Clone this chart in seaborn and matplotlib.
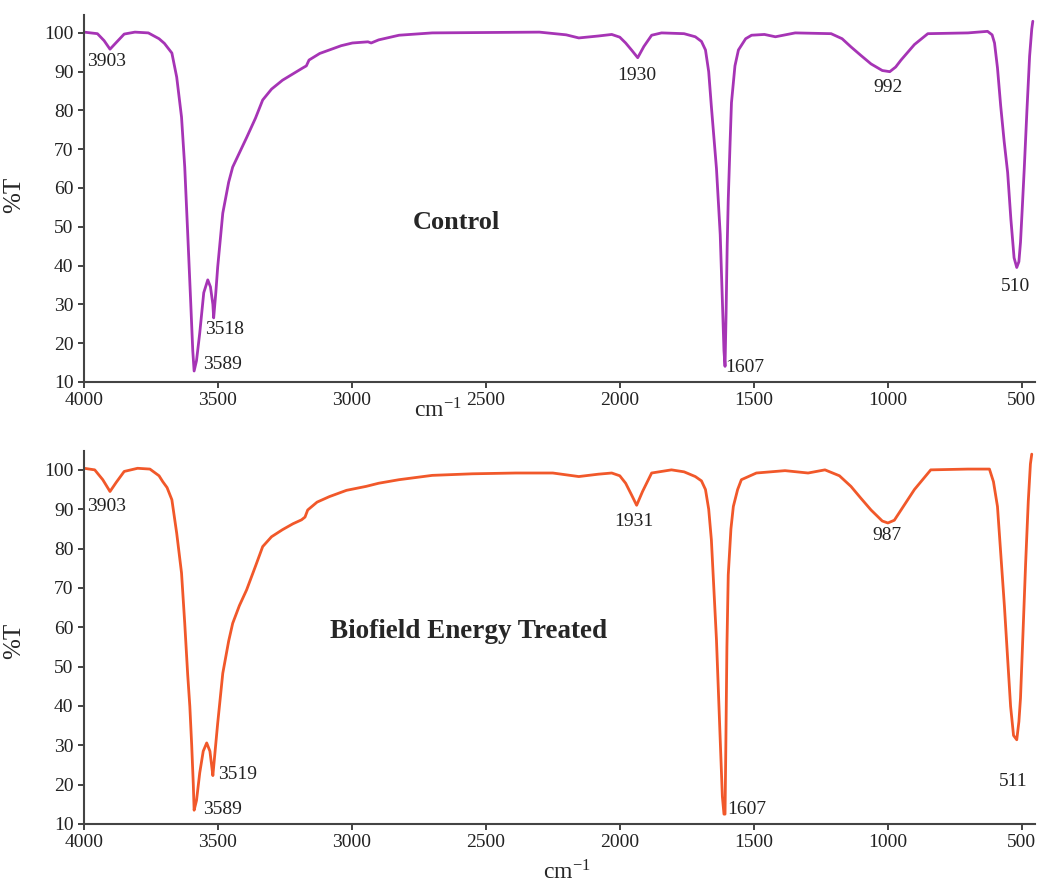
import pandas as pd
import matplotlib
matplotlib.use('Agg')
import matplotlib.pyplot as plt
import seaborn as sns

# FT-IR spectra: (wavenumber cm-1, %T)
ctrl_wn = [4000, 3950, 3925, 3903, 3880, 3850, 3810, 3760, 3720, 3700, 3672, 3654, 3636,
           3624, 3613, 3602, 3594, 3589, 3580, 3568, 3553, 3538, 3528, 3519, 3516, 3508,
           3501, 3482, 3460, 3445, 3393, 3360, 3333, 3300, 3259, 3185, 3170, 3160, 3120,
           3084, 3040, 2998, 2940, 2928, 2900, 2824, 2700, 2500, 2300, 2200, 2153, 2080,
           2030, 2000, 1978, 1955, 1933, 1910, 1881, 1844, 1760, 1718, 1695, 1680, 1668,
           1658, 1639, 1625, 1617, 1611, 1607, 1603, 1599, 1595, 1588, 1583, 1570, 1557,
           1530, 1508, 1460, 1419, 1345, 1211, 1170, 1137, 1100, 1062, 1020, 992, 970,
           950, 900, 850, 700, 627, 610, 601, 590, 578, 565, 552, 540, 528, 518, 510, 504,
           498, 490, 480, 470, 462, 458]
ctrl_t = [100.2, 99.8, 98.0, 95.8, 97.5, 99.7, 100.2, 100.0, 98.5, 97.3, 94.8, 88.6, 78.3,
          65.4, 48.4, 31.0, 18.0, 12.8, 15.5, 22.6, 33.0, 36.3, 34.5, 30.0, 26.5, 33.0,
          39.6, 53.5, 61.5, 65.4, 73.0, 78.0, 82.7, 85.5, 87.8, 90.9, 91.5, 93.0, 94.7,
          95.6, 96.7, 97.4, 97.7, 97.4, 98.2, 99.4, 100.0, 100.1, 100.2, 99.5, 98.7, 99.2,
          99.6, 98.9, 97.4, 95.5, 93.6, 96.5, 99.4, 100.0, 99.8, 99.0, 97.8, 95.6, 90.0,
          81.0, 65.0, 48.0, 31.0, 18.0, 14.0, 28.0, 45.0, 57.0, 72.0, 82.0, 91.5, 95.6,
          98.5, 99.4, 99.6, 99.0, 100.0, 99.8, 98.5, 96.4, 94.2, 92.0, 90.3, 90.0, 91.2,
          93.0, 97.0, 99.8, 100.0, 100.4, 99.5, 97.4, 91.0, 81.2, 72.0, 64.0, 52.0, 42.0,
          39.5, 41.0, 46.0, 54.0, 65.0, 80.0, 94.0, 101.0, 103.0]

treat_wn = [4000, 3960, 3930, 3903, 3880, 3850, 3800, 3754, 3720, 3706, 3690, 3672, 3654,
            3636, 3624, 3613, 3605, 3598, 3592, 3589, 3580, 3568, 3555, 3542, 3530, 3522,
            3519, 3510, 3501, 3482, 3460, 3445, 3420, 3393, 3360, 3333, 3300, 3259, 3220,
            3188, 3175, 3165, 3130, 3084, 3020, 2947, 2900, 2824, 2700, 2550, 2388, 2250,
            2153, 2080, 2030, 2000, 1978, 1955, 1937, 1915, 1881, 1807, 1760, 1718, 1695,
            1680, 1668, 1658, 1639, 1625, 1617, 1611, 1607, 1604, 1600, 1595, 1585, 1576,
            1560, 1546, 1490, 1383, 1297, 1234, 1180, 1137, 1100, 1062, 1020, 999, 975,
            950, 900, 839, 700, 620, 605, 590, 577, 564, 552, 541, 530, 518, 510, 504,
            495, 485, 475, 467, 462]
treat_t = [100.4, 100.0, 97.5, 94.5, 96.8, 99.6, 100.4, 100.2, 98.5, 97.0, 95.5, 92.4, 83.9,
           73.8, 61.0, 48.0, 39.9, 30.0, 20.0, 13.5, 16.0, 23.0, 28.5, 30.6, 28.5, 24.0,
           22.3, 29.0, 35.6, 48.3, 56.5, 61.0, 65.5, 69.5, 75.5, 80.5, 83.0, 84.8, 86.3,
           87.3, 88.0, 89.8, 91.8, 93.2, 94.8, 95.8, 96.6, 97.5, 98.6, 99.0, 99.2, 99.2,
           98.3, 98.9, 99.2, 98.5, 96.6, 93.5, 91.0, 94.5, 99.2, 100.0, 99.5, 98.3, 97.2,
           95.0, 90.0, 82.2, 56.8, 31.4, 17.0, 12.5, 12.5, 30.0, 55.0, 73.3, 85.0, 90.7,
           95.0, 97.5, 99.2, 99.8, 99.2, 100.0, 98.5, 95.8, 92.8, 89.8, 87.0, 86.5, 87.2,
           89.8, 95.0, 100.0, 100.2, 100.2, 97.0, 90.7, 78.0, 65.3, 52.0, 39.9, 32.5, 31.4,
           36.0, 42.0, 58.0, 76.0, 92.0, 101.5, 104.0]

# peak labels: (text, x, y, alignment)
ctrl_peaks = [('3903', 3990, 92.5, 'left'), ('3518', 3548, 23.4, 'left'),
              ('3589', 3555, 14.4, 'left'), ('1930', 1937, 89.1, 'center'),
              ('992', 999, 86.0, 'center'), ('510', 522, 34.5, 'center'),
              ('1607', 1606, 13.6, 'left')]
treat_peaks = [('3903', 3990, 90.6, 'left'), ('3519', 3500, 22.5, 'left'),
               ('3589', 3555, 13.6, 'left'), ('1931', 1949, 87.0, 'center'),
               ('987', 1003, 83.2, 'center'), ('511', 530, 20.9, 'center'),
               ('1607', 1598, 13.6, 'left')]

yticks = list(range(10, 101, 10))
xticks = [4000, 3500, 3000, 2500, 2000, 1500, 1000, 500]

sns.set_style('ticks')
plt.rcParams['font.family'] = ['Liberation Serif', 'DejaVu Serif']
plt.rcParams['mathtext.fontset'] = 'stix'

fig = plt.figure(figsize=(10.45, 8.86), dpi=100)
ax1 = fig.add_axes([0.0804, 0.569, 0.910, 0.414])
ax2 = fig.add_axes([0.0804, 0.070, 0.910, 0.421])

panels = [
    (ax1, ctrl_wn, ctrl_t, '#A634B5', ctrl_peaks, 'Control', 2611, 51, 19, 104.6, (0.372, -0.045), 0.51),
    (ax2, treat_wn, treat_t, '#F1582A', treat_peaks, 'Biofield Energy Treated', 2563, 58.8, 19.5, 104.8, (0.508, -0.098), 0.49),
]

for ax, wn, t, col, peaks, title, tx, ty, tsize, ytop, xl_pos, yl_y in panels:
    df = pd.DataFrame({'wn': wn, 't': t})
    sns.lineplot(data=df, x='wn', y='t', ax=ax, color=col, linewidth=2.0,
                 sort=False, estimator=None)
    ax.set_xlim(4000, 450)
    ax.set_ylim(10, ytop)
    ax.set_xticks(xticks)
    ax.set_yticks(yticks)
    ax.tick_params(labelsize=14, colors='#222222', direction='out', length=4, width=1.2)
    for s in ['top', 'right']:
        ax.spines[s].set_visible(False)
    for s in ['left', 'bottom']:
        ax.spines[s].set_color('#444444')
        ax.spines[s].set_linewidth(1.5)
    ax.set_xlabel(r'cm$^{\mathregular{-1}}$', fontsize=17)
    ax.xaxis.set_label_coords(*xl_pos)
    ax.set_ylabel('%T', fontsize=18)
    ax.yaxis.set_label_coords(-0.062, yl_y)
    for lab, px, py, ha in peaks:
        ax.text(px, py, lab, fontsize=14, ha=ha, va='center', color='#222222')
    ax.text(tx, ty, title, fontsize=tsize, fontweight='bold', ha='center', va='center')

fig.savefig('out.png', dpi=100)
